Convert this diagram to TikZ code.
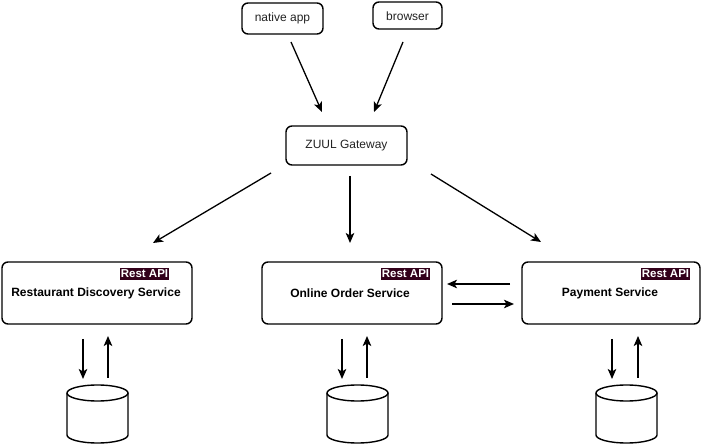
\documentclass[tikz,border=0pt]{standalone}
\usepackage{fontspec}
\setmainfont{Liberation Sans}
\usetikzlibrary{arrows.meta}
\definecolor{restbg}{HTML}{33001A}
\definecolor{txt}{HTML}{222222}
\tikzset{
  box/.style={draw=black, line width=1.4pt, rounded corners=6pt, inner sep=0pt},
  lbl/.style={font=\fontsize{12}{14}\selectfont, text=txt},
  svc/.style={font=\fontsize{12}{14}\selectfont\bfseries, text=black},
  rest/.style={fill=restbg, text=white, font=\fontsize{11.5}{13}\selectfont\bfseries, inner xsep=1pt, inner ysep=0pt, minimum height=12.5pt},
  arr/.style={line width=1.3pt, -{Stealth[length=10pt,width=8.5pt,inset=2.5pt]}},
  db/.style={line width=1.4pt}
}
\begin{document}
\begin{tikzpicture}[x=1pt,y=-1pt]
\useasboundingbox (0,0) rectangle (702,446);
% top boxes
\draw[box] (242,3) rectangle (323,34);
\node[lbl] (na) at (282.5,18.5) {native app};
\draw[box] (373,2) rectangle (442,29);
\node[lbl] (br) at (407.5,16) {browser};
\draw[box] (286,126) rectangle (407,165);
\node[lbl] (gw) at (346.5,146) {ZUUL Gateway};
% service boxes
\draw[box] (2,262) rectangle (192,324);
\node[svc] (rd) at (96,293) {Restaurant Discovery Service};
\node[rest] (r1) at (144.5,274) {Rest API};
\draw[box] (262,262) rectangle (442,324);
\node[svc] (oo) at (350,293) {Online Order Service};
\node[rest] (r2) at (405.5,274) {Rest API};
\draw[box] (522,262) rectangle (700,324);
\node[svc] (ps) at (610,293) {Payment Service};
\node[rest] (r3) at (665.5,274) {Rest API};
% coordinates
\coordinate (a1s) at (291,42); \coordinate (a1e) at (322,112);
\coordinate (a2s) at (403,42); \coordinate (a2e) at (374,112);
\coordinate (g1s) at (271,173); \coordinate (g1e) at (153,243);
\coordinate (g2s) at (350,176); \coordinate (g2e) at (350,243);
\coordinate (g3s) at (431,174); \coordinate (g3e) at (541,242);
\coordinate (h1s) at (510,284); \coordinate (h1e) at (447,284);
\coordinate (h2s) at (452,304); \coordinate (h2e) at (514,304);
\draw[arr] (a1s) -- (a1e);
\draw[arr] (a2s) -- (a2e);
\draw[arr] (g1s) -- (g1e);
\draw[arr] (g2s) -- (g2e);
\draw[arr] (g3s) -- (g3e);
\draw[arr] (h1s) -- (h1e);
\draw[arr] (h2s) -- (h2e);
% databases
\foreach \cx/\dx/\ux [count=\i] in {97.5/83/108, 357.5/342/367, 626.5/612/638}{
  \coordinate (d\i t) at (\dx,339);
  \coordinate (d\i b) at (\dx,379);
  \coordinate (u\i b) at (\ux,378);
  \coordinate (u\i t) at (\ux,336);
  \draw[arr] (d\i t) -- (d\i b);
  \draw[arr] (u\i b) -- (u\i t);
  \draw[db] (\cx,393) ellipse [x radius=30.5, y radius=8];
  \draw[db] (\cx-30.5,393) -- (\cx-30.5,435) arc[start angle=180, end angle=0, x radius=30.5, y radius=8] -- (\cx+30.5,393);
}
\end{tikzpicture}
\end{document}
